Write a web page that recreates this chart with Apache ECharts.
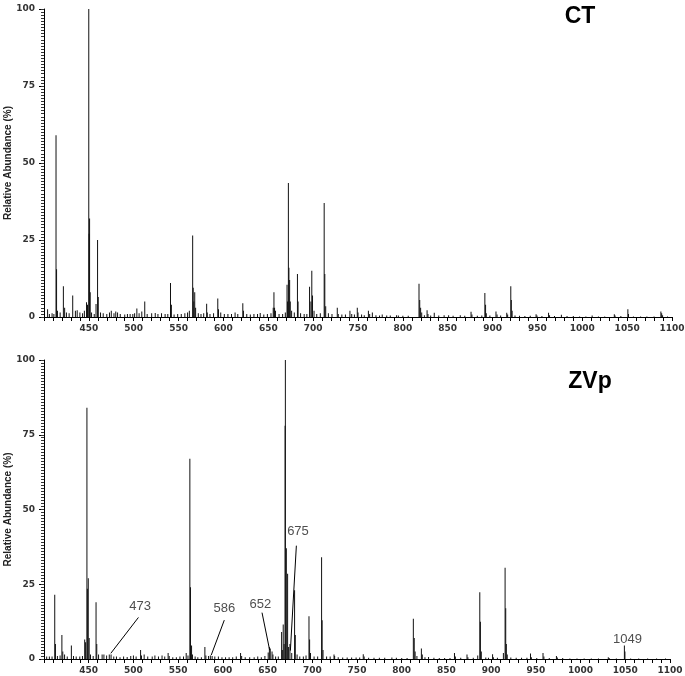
<!DOCTYPE html>
<html><head><meta charset="utf-8">
<script src="https://cdn.jsdelivr.net/npm/echarts@6/dist/echarts.min.js"></script>
<style>html,body{margin:0;padding:0;background:#fff}#c{width:685px;height:676px}</style>
</head><body><div id="c"></div>
<script>
// CT spectrum (m/z, relative abundance %)
const ctMz = [404,406,409,411,413.4,414,415,418,421.6,423,425,428,432,435,437,440,443,445,447.4,448.5,449.9,450.3,450.8,451.5,453,456,458,459.7,460.5,463,466,470,473,475,478,480,482,485,490,493,496,499,501,503.5,506,509,512.3,515,520,524,527,531,535,538,541,542,545,549,553,557,560,562,565.7,566.3,567,568,569,572,575,578,581.3,582,585,589,593.7,594.5,597,601,605,609,613,616,621.6,622.3,626,630,634,638,641,645,649,653,655.5,656.3,657,658,662,666,669,670.9,671.5,672.4,673,673.8,674.5,676,679,682.5,683.2,686,690,693,696,697.5,698.5,699.3,701,704,708,712.3,713,714,717,721,726.9,728,732,736,741,743,746,749.2,750,754,757,761.6,763,766,770,774,777,782,786,793,795,800,806,818,818.8,819.8,821,824,827,828,831,835,840,846,851,856,864,869,876,877,883,888,891.4,892.2,893,897,903.8,905,909,915.8,916.8,920.3,920.9,921.8,925,930,936,942,948.5,949.5,955,962.4,963.5,969,976.7,983,990,997,1004,1011,1018,1025,1035.7,1036.5,1043,1050.8,1051.5,1057,1065,1072,1080,1087.6,1088.5,1089.5,1095];
const ctVal = [2.5,1,1.2,1,59,15.5,2,1.5,10,3,1.5,1.2,7,2,2.2,1.5,1.2,2,4.8,4,100,27,32,8,1.5,1,4.2,25,6.5,1.5,1.2,1,1.5,2,1.2,1.8,1.5,1,0.8,1,1,1,1.2,2.8,1.2,1.8,5,1,1.2,1.3,1,1.2,1,1,11,4,0.8,1,1,1.2,1.5,2,26.5,9.5,5,8,3,1.2,1,1.2,4.3,1.5,1,1.2,6,2.5,1.5,1,1,1,1.5,1,4.5,2,1,0.8,1,1,1.3,0.8,1,1.2,3,8,3,2,1,1,1.5,10.5,5,43.5,16,12,5,2,1.5,14,5,1.2,1,1,9.8,5,15,7,2,1,1.2,37,14,3.5,1.2,1,3,1,0.8,0.8,2,1,0.8,3,1.5,0.8,0.6,2,1,1.5,0.6,0.5,0.8,0.5,0.5,0.6,0.5,0.4,0.4,10.8,5.5,3,1.5,0.6,2.2,1,0.5,1.4,0.5,0.6,0.6,0.4,0.6,0.4,1.7,0.8,0.4,0.5,7.8,4,1.2,0.5,1.8,0.8,0.5,1.4,0.8,10,5.5,2,0.5,0.4,0.3,0.4,0.9,0.5,0.3,1.4,0.6,0.3,0.7,0.3,0.3,0.2,0.2,0.5,0.2,0.2,0.9,0.5,0.3,2.5,1,0.2,0.2,0.2,0.2,1.8,1.2,0.6,0.2];

// ZVp spectrum
const zvMz = [403,406,409,412,412.8,415,418,420,421,423,426,430.6,433,436,440,443,445.5,446.5,448,448.5,449.5,450.5,452,455,458.2,459,461,465,467,470,473,475,478,481,485,489,493,497,500,503,508,509,512,516,521,524,528,532,535,538.8,540,544,548,552,556,559,561,563.1,563.8,565,566,569,572,576,579.9,581,584,586,588,591,595,599,603,607,611,615,619.8,621,625,630,635,639,643,647,650.7,652,653,655,656,659,662,665.7,666.5,667.5,668.5,669.6,669.9,671,672.4,673.5,675,677,680.2,681,683,686,690,693,696.3,697,698,702,706,710.4,711,712,716,720,724.3,725,729,734,739,744,749,753,757,758,763,769,775,781,789,794,800,806,813,814,815,817,822,823,826,830,836,842,848,854,859,860,866,873,874,880,885,887.3,888,889,894,897,901.6,902.5,907,913.7,915.6,916.3,917,918,922,928,934,940,944,945,951,958,959,965,973,974,980,988,996,1004,1012,1020,1031,1032,1040,1049,1049.6,1056,1065,1075,1085,1095];
const zvVal = [0.8,0.8,0.8,21.5,5,1,1.2,8,2.5,1.5,0.8,4.5,1,0.8,0.8,1,6.5,5.6,84,23.5,27,7,1.5,1,19,5,1.5,1.5,1.5,1.2,1.5,1.5,0.8,0.8,0.6,0.8,0.7,1,1.2,0.8,3,1.2,1.5,0.8,0.8,1.2,0.8,1.2,0.8,2,1,0.6,0.6,0.8,0.8,2,1.2,67,24,4.5,1.5,0.8,0.6,0.6,4,1.2,1,1.2,1,0.8,0.8,0.6,0.6,0.6,0.6,0.8,2,1,0.6,0.6,0.6,0.8,0.6,1,2.2,4,3.5,2.5,1.5,0.8,0.8,9,3,11.5,5,78,100,37,28.5,4,5,2,23,8,1.5,0.8,0.8,1.2,14.3,6.5,2,0.8,0.8,34,13,3,0.8,0.8,1.5,1,0.6,0.5,0.5,0.5,0.5,0.5,1.6,0.8,0.4,0.4,0.4,0.4,0.5,0.4,0.3,0.3,13.5,7,2.5,1,3.5,1.5,0.6,0.7,0.4,0.3,0.3,0.3,2,0.8,0.4,1.5,0.6,0.4,1.2,22.3,12.5,2.5,0.5,0.4,1.6,0.6,0.4,2,30.5,17,5,1.5,0.5,0.4,0.4,0.4,1.8,0.6,0.3,2,0.8,0.3,1,0.5,0.3,0.2,0.2,0.2,0.2,0.2,0.6,0.3,0.2,4.5,2.5,0.2,0.2,0.2,0.2,0.2];

// Axis ticks
const xMin = 400, xMax = 1100, xStep = 50;
const yMin = 0, yMax = 100, yStep = 25, yFineStep = 1;
const panelTitles = ['CT', 'ZVp'];
const yName = 'Relative Abundance (%)';

// Annotations on the ZVp panel (label, text anchor m/z & value)
const annoLabels = ['473', '586', '652', '675', '1049'];
const annoTextMz = [507.5, 601.6, 641.9, 684, 1052.5];
const annoTextVal = [17.5, 17, 18.4, 42.8, 6.7];
const annoLineStart = [[474.7, 1.9], [587, 1.3], [652.3, 3], [675.5, 2.8]];
const annoLineEnd = [[505.6, 13.9], [601.6, 13], [643.8, 15.5], [682.2, 37.9]];

const chart = echarts.init(document.getElementById('c'), null, {renderer: 'canvas'});
const lblFont = {fontFamily: 'DejaVu Sans', fontSize: 9, fontWeight: 'bold', color: '#333'};

function xAx(i) {
  return {
    type: 'value', gridIndex: i, min: xMin, max: xMax, interval: xStep,
    axisLine: {show: true, onZero: false, lineStyle: {color: '#000', width: 1}},
    axisTick: {show: true, length: 4, lineStyle: {color: '#000'}},
    minorTick: {show: true, splitNumber: 5, length: 4, lineStyle: {color: '#000'}},
    axisLabel: Object.assign({margin: 7, showMaxLabel: true, showMinLabel: true,
      formatter: v => v === xMin ? '' : String(v)}, lblFont),
    splitLine: {show: false}, minorSplitLine: {show: false}
  };
}
function yAx(i) {
  return {
    type: 'value', gridIndex: i, min: yMin, max: yMax, interval: yStep,
    name: yName, nameLocation: 'middle', nameGap: 31, nameMoveOverlap: false,
    nameTextStyle: {fontFamily: 'Liberation Sans', fontSize: 10, fontWeight: 'bold', color: '#222'},
    axisLine: {show: true, lineStyle: {color: '#000', width: 1}},
    axisTick: {show: true, length: 5, lineStyle: {color: '#000'}},
    axisLabel: Object.assign({margin: 9}, lblFont),
    splitLine: {show: false}
  };
}
function yFine(i) {
  return {
    type: 'value', gridIndex: i, min: yMin, max: yMax, interval: yFineStep, position: 'left',
    axisLine: {show: false}, axisLabel: {show: false},
    axisTick: {show: true, length: 3, lineStyle: {color: '#333'}},
    splitLine: {show: false}
  };
}
const pair = (a, b) => a.map((x, k) => [x, b[k]]);

const option = {
  animation: false,
  backgroundColor: '#fff',
  title: [
    {text: panelTitles[0], left: 575, top: 0, textAlign: 'center',
     textStyle: {fontFamily: 'Liberation Sans', fontSize: 23, fontWeight: 'bold', color: '#000'}},
    {text: panelTitles[1], left: 585, top: 365, textAlign: 'center',
     textStyle: {fontFamily: 'Liberation Sans', fontSize: 23, fontWeight: 'bold', color: '#000'}}
  ],
  grid: [
    {left: 44, top: 9, width: 628, height: 308, containLabel: false, outerBoundsMode: 'none'},
    {left: 44, top: 360, width: 626, height: 299, containLabel: false, outerBoundsMode: 'none'}
  ],
  xAxis: [xAx(0), xAx(1)],
  yAxis: [yAx(0), yAx(1), yFine(0), yFine(1)],
  series: [
    {type: 'bar', xAxisIndex: 0, yAxisIndex: 0, barWidth: 1, data: pair(ctMz, ctVal),
     itemStyle: {color: '#111'}, silent: true},
    {type: 'bar', xAxisIndex: 1, yAxisIndex: 1, barWidth: 1, data: pair(zvMz, zvVal),
     itemStyle: {color: '#111'}, silent: true},
    {type: 'scatter', xAxisIndex: 1, yAxisIndex: 1, symbolSize: 0, silent: true,
     data: annoLabels.map((t, k) => ({name: t, value: [annoTextMz[k], annoTextVal[k]]})),
     label: {show: true, position: 'inside', formatter: p => p.name,
       fontFamily: 'Liberation Sans', fontSize: 13, color: '#222'},
     markLine: {silent: true, symbol: 'none', animation: false,
       lineStyle: {color: '#000', width: 1, type: 'solid'}, label: {show: false},
       data: annoLineStart.map((s, k) => [{coord: s}, {coord: annoLineEnd[k]}])}
    }
  ]
};
chart.setOption(option);
</script></body></html>
